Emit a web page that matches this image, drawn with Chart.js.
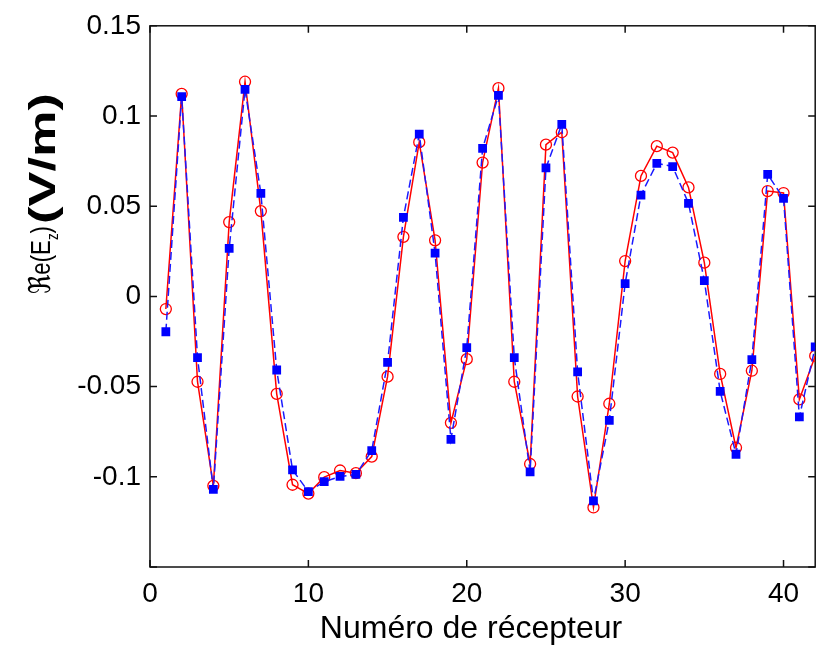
<!DOCTYPE html>
<html>
<head>
<meta charset="utf-8">
<script src="https://cdn.jsdelivr.net/npm/chart.js@4/dist/chart.umd.min.js"></script>
<style>
  html, body { margin: 0; padding: 0; background: #fff; overflow: hidden; }
  #wrap { width: 822px; height: 649px; }
</style>
</head>
<body>
<div id="wrap"><canvas id="c" width="822" height="649"></canvas></div>
<script>
// Receiver index along the profile
const receivers = [1, 2, 3, 4, 5, 6, 7, 8, 9, 10, 11, 12, 13, 14, 15, 16, 17, 18, 19, 20, 21,
                   22, 23, 24, 25, 26, 27, 28, 29, 30, 31, 32, 33, 34, 35, 36, 37, 38, 39, 40, 41, 42];

// Real part of Ez (V/m), red open circles, solid line
const reEzCircles = [-0.007, 0.1123, -0.0473, -0.105, 0.0412, 0.119, 0.0473, -0.054, -0.1044, -0.1093,
                     -0.1002, -0.0965, -0.098, -0.0888, -0.0445, 0.033, 0.0855, 0.0311, -0.0701, -0.0348,
                     0.0742, 0.1154, -0.0473, -0.0929, 0.0841, 0.091, -0.0555, -0.117, -0.0595, 0.0196,
                     0.0668, 0.0833, 0.0797, 0.0604, 0.0187, -0.043, -0.0839, -0.0412, 0.0584, 0.0573,
                     -0.0571, -0.033];

// Real part of Ez (V/m), blue filled squares, dashed line
const reEzSquares = [-0.0196, 0.1108, -0.0339, -0.107, 0.0266, 0.1148, 0.0571, -0.0408, -0.0962, -0.1082,
                     -0.1027, -0.0998, -0.0987, -0.0855, -0.0366, 0.0438, 0.0899, 0.024, -0.0793, -0.0284,
                     0.082, 0.1114, -0.0339, -0.0973, 0.0712, 0.0954, -0.0419, -0.1134, -0.0687, 0.0071,
                     0.0562, 0.0738, 0.072, 0.0516, 0.0088, -0.0526, -0.0875, -0.035, 0.0676, 0.0544,
                     -0.0668, -0.028];

const xTickValues = [0, 10, 20, 30, 40];
const yTickValues = [-0.15, -0.1, -0.05, 0, 0.05, 0.1, 0.15];
const yTickLabels = ['', '-0.1', '-0.05', '0', '0.05', '0.1', '0.15'];
const xTitle = 'Numéro de récepteur';

const SANS = '"Liberation Sans", Arial, Helvetica, sans-serif';

// Box around the plot with inward tick marks on all four sides
const axesBox = {
  id: 'axesBox',
  beforeDatasetsDraw(chart) {
    const { ctx, chartArea: a, scales } = chart;
    const tl = 7;
    ctx.save();
    ctx.strokeStyle = '#111';
    ctx.lineWidth = 1.5;
    ctx.strokeRect(a.left, a.top, a.right - a.left, a.bottom - a.top);
    ctx.beginPath();
    xTickValues.forEach(v => {
      const px = scales.x.getPixelForValue(v);
      ctx.moveTo(px, a.bottom); ctx.lineTo(px, a.bottom - tl);
      ctx.moveTo(px, a.top); ctx.lineTo(px, a.top + tl);
    });
    yTickValues.forEach(v => {
      const py = scales.y.getPixelForValue(v);
      ctx.moveTo(a.left, py); ctx.lineTo(a.left + tl, py);
      ctx.moveTo(a.right, py); ctx.lineTo(a.right - tl, py);
    });
    ctx.stroke();
    ctx.restore();
  }
};

// Axis titles: x title below the ticks, rotated y title ℜe(E_z) (V/m)
const axisTitles = {
  id: 'axisTitles',
  afterDraw(chart) {
    const ctx = chart.ctx;
    ctx.save();
    ctx.fillStyle = '#000';
    ctx.font = '32px ' + SANS;
    ctx.textAlign = 'center';
    ctx.textBaseline = 'alphabetic';
    ctx.fillText(xTitle, 471, 638);
    ctx.restore();

    ctx.save();
    ctx.fillStyle = '#000';
    ctx.textBaseline = 'alphabetic';
    ctx.textAlign = 'left';
    ctx.rotate(-Math.PI / 2);
    // in the rotated frame, a screen point (sx, sy) is (-sy, sx)
    const runs = [
      { parts: [
          { t: '\u211C', font: '30px "DejaVu Sans", sans-serif', dy: 0 },
          { t: 'e(E', font: '28px ' + SANS, dy: 0 },
          { t: 'z', font: '17px ' + SANS, dy: 8 },
          { t: ')', font: '28px ' + SANS, dy: 0 }
        ], from: 294, to: 226, base: 50 },
      { parts: [
          { t: '(V/m)', font: 'bold 37px ' + SANS, dy: 0 }
        ], from: 224, to: 93, base: 55 }
    ];
    runs.forEach(run => {
      let total = 0;
      run.parts.forEach(p => { ctx.font = p.font; p.w = ctx.measureText(p.t).width; total += p.w; });
      const k = (run.from - run.to) / total;
      ctx.save();
      ctx.translate(-run.from, run.base);
      ctx.scale(k, 1);
      let u = 0;
      run.parts.forEach(p => {
        ctx.font = p.font;
        ctx.fillText(p.t, u, p.dy);
        u += p.w;
      });
      ctx.restore();
    });
    ctx.restore();
  }
};

new Chart(document.getElementById('c'), {
  type: 'line',
  data: {
    datasets: [
      {
        data: receivers.map((r, i) => ({ x: r, y: reEzCircles[i] })),
        borderColor: '#ff0000',
        borderWidth: 1.5,
        pointStyle: 'circle',
        pointRadius: 5.5,
        pointBorderWidth: 1.3,
        pointBorderColor: '#ff0000',
        pointBackgroundColor: 'rgba(255,255,255,0)',
        tension: 0,
        order: 2
      },
      {
        data: receivers.map((r, i) => ({ x: r, y: reEzSquares[i] })),
        borderColor: '#1a1aff',
        borderWidth: 1.5,
        borderDash: [8, 4],
        pointStyle: 'rect',
        pointRadius: 6.2,
        pointBorderWidth: 0,
        pointBackgroundColor: '#0000ff',
        pointBorderColor: '#0000ff',
        tension: 0,
        order: 1
      }
    ]
  },
  options: {
    responsive: false,
    animation: false,
    events: [],
    layout: { padding: { top: 22, right: 1, left: 0, bottom: 0 } },
    plugins: { legend: { display: false }, tooltip: { enabled: false }, title: { display: false } },
    scales: {
      x: {
        type: 'linear',
        min: 0,
        max: 42,
        afterBuildTicks: s => { s.ticks = xTickValues.map(v => ({ value: v })); },
        afterFit: s => { s.height = 82; },
        grid: { display: false, drawTicks: false },
        border: { display: false },
        ticks: {
          color: '#000',
          padding: 10,
          maxRotation: 0,
          autoSkip: false,
          font: { family: SANS, size: 28 },
          callback: v => String(v)
        }
      },
      y: {
        type: 'linear',
        min: -0.15,
        max: 0.15,
        afterBuildTicks: s => { s.ticks = yTickValues.map(v => ({ value: v })); },
        afterFit: s => { s.width = 150; },
        grid: { display: false, drawTicks: false },
        border: { display: false },
        ticks: {
          color: '#000',
          padding: 9,
          autoSkip: false,
          font: { family: SANS, size: 28 },
          callback: (v, i) => yTickLabels[i]
        }
      }
    }
  },
  plugins: [axesBox, axisTitles]
});
</script>
</body>
</html>
